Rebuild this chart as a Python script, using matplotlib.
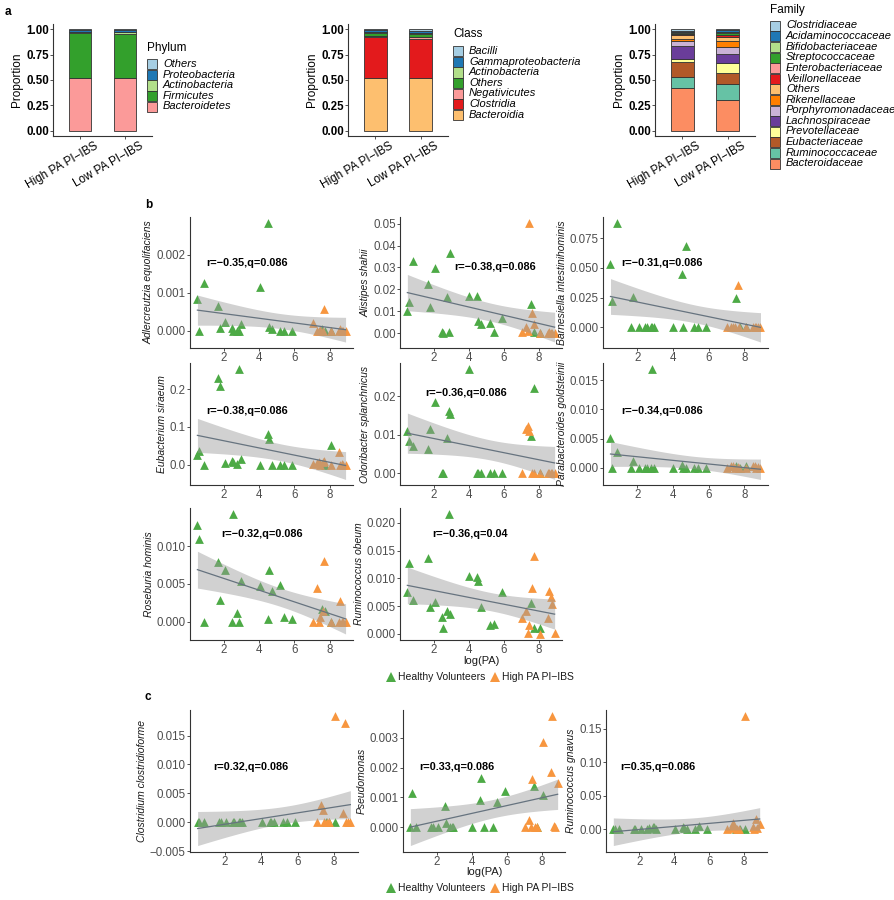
import numpy as np
import matplotlib.pyplot as plt
from matplotlib.patches import Rectangle
from matplotlib.lines import Line2D
import matplotlib.transforms as mtransforms

plt.rcParams['font.family'] = ['Liberation Sans', 'DejaVu Sans']

W, H = 895, 900

# ---------------- panel a: relative abundance ----------------
groups = ['High PA PI\u2212IBS', 'Low PA PI\u2212IBS']

phylum_names = ['Bacteroidetes', 'Firmicutes', 'Actinobacteria', 'Proteobacteria', 'Others']
phylum_high = [0.515, 0.442, 0.017, 0.019, 0.007]
phylum_low = [0.515, 0.433, 0.019, 0.023, 0.010]
phylum_colors = ['#FB9A99', '#33A02C', '#B2DF8A', '#1F78B4', '#A6CEE3']

class_names = ['Bacteroidia', 'Clostridia', 'Negativicutes', 'Others', 'Actinobacteria',
               'Gammaproteobacteria', 'Bacilli']
class_high = [0.515, 0.410, 0.010, 0.030, 0.010, 0.015, 0.010]
class_low = [0.515, 0.383, 0.027, 0.030, 0.010, 0.015, 0.020]
class_colors = ['#FDBF6F', '#E31A1C', '#FB9A99', '#33A02C', '#B2DF8A', '#1F78B4', '#A6CEE3']

family_names = ['Bacteroidaceae', 'Ruminococcaceae', 'Eubacteriaceae', 'Prevotellaceae',
                'Lachnospiraceae', 'Porphyromonadaceae', 'Rikenellaceae', 'Others',
                'Veillonellaceae', 'Enterobacteriaceae', 'Streptococcaceae',
                'Bifidobacteriaceae', 'Acidaminococcaceae', 'Clostridiaceae']
family_high = [0.426, 0.099, 0.147, 0.030, 0.134, 0.049, 0.013, 0.043, 0.009, 0.005, 0.005, 0.015, 0.010, 0.015]
family_low = [0.302, 0.157, 0.111, 0.099, 0.085, 0.066, 0.062, 0.036, 0.023, 0.005, 0.020, 0.005, 0.020, 0.009]
family_colors = ['#FC8D62', '#66C2A5', '#B15928', '#FFFF99', '#6A3D9A', '#CAB2D6', '#FF7F00',
                 '#FDBF6F', '#E31A1C', '#FB9A99', '#33A02C', '#B2DF8A', '#1F78B4', '#A6CEE3']

# ---------------- panels b, c: log(PA) vs abundance ----------------
X_HV = [0.50, 0.58, 0.85, 1.67, 1.77, 2.08, 2.45, 2.52, 2.75, 2.85, 2.95, 4.02, 4.50, 4.55,
        4.72, 5.20, 5.42, 5.87, 7.55, 7.75, 8.08]
X_PI = [7.04, 7.27, 7.38, 7.45, 7.62, 7.70, 8.07, 8.50, 8.60, 8.67, 8.75, 8.90]

adler_hv = [0.00084, 0.0, 0.00125, 0.00064, 0.00007, 0.00022, 0.00007, 0.0, 0.0, 0.0, 0.00017,
            0.00116, 0.00283, 0.00009, 0.00006, 0.0, 0.0, 0.0, 0.00005, 0.0, 0.0]
adler_pi = [0.0002, 0.0, 0.0, 0.00003, 0.0, 0.00057, 0.0, 0.0, 0.00004, 0.0, 0.0, 0.0]

alistipes_hv = [0.0102, 0.0142, 0.0329, 0.0223, 0.0120, 0.0298, 0.0006, 0.0, 0.0167, 0.0006, 0.0364,
                0.0170, 0.0170, 0.0056, 0.0044, 0.0048, 0.0006, 0.0071, 0.0135, 0.0003, 0.0]
alistipes_pi = [0.0003, 0.0030, 0.0010, 0.0503, 0.0091, 0.0040, 0.0, 0.0, 0.0005, 0.0, 0.0, 0.0]

barnes_hv = [0.0536, 0.0217, 0.0880, 0.0, 0.0256, 0.0, 0.0, 0.0, 0.0, 0.0, 0.0,
             0.0, 0.0450, 0.0, 0.0683, 0.0, 0.0, 0.0, 0.0244, 0.0, 0.0]
barnes_pi = [0.0, 0.0005, 0.0, 0.0, 0.0353, 0.0, 0.0, 0.0, 0.0005, 0.0, 0.0, 0.0]

eubac_hv = [0.026, 0.037, 0.0, 0.230, 0.209, 0.004, 0.010, 0.007, 0.002, 0.254, 0.014,
            0.0, 0.080, 0.068, 0.0, 0.0, 0.0, 0.0, 0.003, 0.0, 0.053]
eubac_pi = [0.002, 0.004, 0.006, 0.0, 0.008, 0.010, 0.0, 0.033, 0.0, 0.003, 0.0, 0.0]

odori_hv = [0.0109, 0.0083, 0.0071, 0.0062, 0.0115, 0.0186, 0.0, 0.0, 0.0090, 0.0161, 0.0153,
            0.0272, 0.0, 0.0, 0.0, 0.0, 0.0, 0.0, 0.0096, 0.0221, 0.0]
odori_pi = [0.0, 0.0115, 0.0122, 0.0109, 0.0, 0.0, 0.0, 0.0, 0.0, 0.0, 0.0, 0.0]

parab_hv = [0.0051, 0.0, 0.0027, 0.0, 0.0011, 0.0, 0.0, 0.0, 0.0, 0.0170, 0.0,
            0.0, 0.0004, 0.0, 0.0, 0.0, 0.0, 0.0, 0.0003, 0.0, 0.0002]
parab_pi = [0.0, 0.0002, 0.0003, 0.0, 0.0001, 0.0, 0.0, 0.0002, 0.0003, 0.0, 0.0001, 0.0]

roseb_hv = [0.0129, 0.0110, 0.0, 0.0079, 0.0029, 0.0068, 0.0, 0.0143, 0.0012, 0.0, 0.0054,
            0.0047, 0.0004, 0.0068, 0.0041, 0.0049, 0.0006, 0.0004, 0.0017, 0.0014, 0.0]
roseb_pi = [0.0, 0.0044, 0.0, 0.0006, 0.0014, 0.0080, 0.0, 0.0, 0.0028, 0.0, 0.0, 0.0]

obeum_hv = [0.0076, 0.0127, 0.0061, 0.0136, 0.0049, 0.0057, 0.0031, 0.0010, 0.0041, 0.0216, 0.0036,
            0.0105, 0.0102, 0.0096, 0.0048, 0.0016, 0.0018, 0.0076, 0.0056, 0.0010, 0.0010]
obeum_pi = [0.0028, 0.0041, 0.0001, 0.0016, 0.0082, 0.0141, 0.0, 0.0028, 0.0078, 0.0067, 0.0054, 0.0001]

clostr_hv = [0.0, 0.0, 0.0, 0.0, 0.0, 0.0, 0.0, 0.0, 0.0, 0.0, 0.0,
             0.0, 0.0, 0.0, 0.0, 0.0, 0.0, 0.0, 0.0, 0.0, 0.0]
clostr_pi = [0.0, 0.0029, 0.0021, 0.0, 0.0, 0.0, 0.0183, 0.0016, 0.0171, 0.0, 0.0, 0.0]

pseudo_hv = [0.0, 0.00114, 0.0, 0.0, 0.0, 0.0, 0.00071, 0.00015, 0.0, 0.0, 0.0,
             0.0, 0.00091, 0.00165, 0.0, 0.0, 0.00086, 0.00120, 0.00137, 0.0, 0.00107]
pseudo_pi = [0.0, 0.00023, 0.0, 0.00162, 0.0, 0.0, 0.00285, 0.00184, 0.00372, 0.00003, 0.0, 0.00150]

gnavus_hv = [0.0, 0.0, 0.0, 0.001, 0.0, 0.0, 0.001, 0.002, 0.004, 0.003, 0.001,
             0.0, 0.003, 0.002, 0.0, 0.001, 0.005, 0.0, 0.0, 0.0, 0.001]
gnavus_pi = [0.0, 0.002, 0.009, 0.003, 0.0, 0.001, 0.168, 0.003, 0.0, 0.016, 0.002, 0.0075]

taxa = ['Adlercreutzia equolifaciens', 'Alistipes shahii', 'Barnesiella intestinihominis',
        'Eubacterium siraeum', 'Odoribacter splanchnicus', 'Parabacteroides goldsteinii',
        'Roseburia hominis', 'Ruminococcus obeum',
        'Clostridium clostridioforme', 'Pseudomonas', 'Ruminococcus gnavus']
stats = ['r=\u22120.35,q=0.086', 'r=\u22120.38,q=0.086', 'r=\u22120.31,q=0.086',
         'r=\u22120.38,q=0.086', 'r=\u22120.36,q=0.086', 'r=\u22120.34,q=0.086',
         'r=\u22120.32,q=0.086', 'r=\u22120.36,q=0.04',
         'r=0.32,q=0.086', 'r=0.33,q=0.086', 'r=0.35,q=0.086']
yticks = [[0, 0.001, 0.002], [0, 0.01, 0.02, 0.03, 0.04, 0.05], [0, 0.025, 0.05, 0.075],
          [0, 0.1, 0.2], [0, 0.01, 0.02], [0, 0.005, 0.01, 0.015],
          [0, 0.005, 0.01], [0, 0.005, 0.01, 0.015, 0.02],
          [-0.005, 0, 0.005, 0.01, 0.015], [0, 0.001, 0.002, 0.003], [0, 0.05, 0.10, 0.15]]
ytick_labels = [['0.000', '0.001', '0.002'], ['0.00', '0.01', '0.02', '0.03', '0.04', '0.05'],
                ['0.000', '0.025', '0.050', '0.075'], ['0.0', '0.1', '0.2'],
                ['0.00', '0.01', '0.02'], ['0.000', '0.005', '0.010', '0.015'],
                ['0.000', '0.005', '0.010'], ['0.000', '0.005', '0.010', '0.015', '0.020'],
                ['\u22120.005', '0.000', '0.005', '0.010', '0.015'],
                ['0.000', '0.001', '0.002', '0.003'], ['0.00', '0.05', '0.10', '0.15']]
hv_values = [adler_hv, alistipes_hv, barnes_hv, eubac_hv, odori_hv, parab_hv, roseb_hv, obeum_hv,
             clostr_hv, pseudo_hv, gnavus_hv]
pi_values = [adler_pi, alistipes_pi, barnes_pi, eubac_pi, odori_pi, parab_pi, roseb_pi, obeum_pi,
             clostr_pi, pseudo_pi, gnavus_pi]

# layout (pixels): left, top, right, bottom of each scatter panel
boxes = [(190, 217, 353, 348), (400, 217, 562, 348), (603, 217, 768, 348),
         (190, 363, 353, 485), (400, 363, 562, 485), (603, 363, 768, 485),
         (190, 508, 353, 640), (400, 508, 562, 640),
         (190, 710, 358, 852), (403, 710, 565, 852), (606, 710, 767, 852)]
text_pos = [(0.35, 0.65), (0.59, 0.62), (0.36, 0.65),
            (0.35, 0.61), (0.41, 0.75), (0.36, 0.61),
            (0.44, 0.80), (0.43, 0.80),
            (0.36, 0.60), (0.33, 0.60), (0.32, 0.60)]

hv_color = '#4DAA46'
pi_color = '#F7963F'
axis_col = '#333333'

fig = plt.figure(figsize=(W / 100, H / 100), dpi=100)


def px_axes(l, t, r, b):
    return fig.add_axes([l / W, 1 - b / H, (r - l) / W, (b - t) / H])


def style_axes(ax):
    for s in ['top', 'right']:
        ax.spines[s].set_visible(False)
    for s in ['left', 'bottom']:
        ax.spines[s].set_color(axis_col)
        ax.spines[s].set_linewidth(0.8)
    ax.tick_params(length=2, width=0.6, color=axis_col, labelsize=8.3, labelcolor='#4D4D4D', pad=1)


# ---- panel a ----
def stacked(ax, high, low, colors):
    bottoms = np.zeros(2)
    for hv, lv, c in zip(high, low, colors):
        vals = np.array([hv, lv])
        ax.bar([1, 2], vals, width=0.5, bottom=bottoms, color=c, edgecolor='#333333', linewidth=0.6)
        bottoms += vals
    ax.set_xlim(0.4, 2.6)
    ax.set_ylim(-0.05, 1.05)
    style_axes(ax)
    ax.tick_params(labelcolor='black')
    ax.set_yticks([0, 0.25, 0.5, 0.75, 1.0], ['0.00', '0.25', '0.50', '0.75', '1.00'], fontweight='bold')
    ax.set_xticks([1, 2], groups, rotation=30, ha='right', rotation_mode='anchor', fontsize=8.4)
    offset = mtransforms.ScaledTranslation(14 / 100, 0, fig.dpi_scale_trans)
    for lab in ax.get_xticklabels():
        lab.set_transform(lab.get_transform() + offset)
    ax.set_ylabel('Proportion', fontsize=8.5, labelpad=2)


def box_legend(title, names, colors, x, y_title, y0, dy=10.6):
    fig.text(x / W, 1 - y_title / H, title, fontsize=8.5, va='center', ha='left')
    for i, (n, c) in enumerate(zip(names[::-1], colors[::-1])):
        yc = y0 + i * dy
        fig.add_artist(Rectangle((x / W, 1 - (yc + dy / 2) / H), 10 / W, (dy - 0.5) / H,
                                 facecolor=c, edgecolor='#333333', lw=0.6, transform=fig.transFigure))
        fig.text((x + 16) / W, 1 - yc / H, n, fontsize=8, style='italic', va='center', ha='left')


ax = px_axes(53, 24, 152, 136)
stacked(ax, phylum_high, phylum_low, phylum_colors)
box_legend('Phylum', phylum_names, phylum_colors, 147, 48, 64)

ax = px_axes(348, 24, 448, 136)
stacked(ax, class_high, class_low, class_colors)
box_legend('Class', class_names, class_colors, 453, 34, 51)

ax = px_axes(655, 24, 755, 136)
stacked(ax, family_high, family_low, family_colors)
box_legend('Family', family_names, family_colors, 770, 10, 25.5)


# ---- panels b and c ----
def lm_band(x, y):
    xx = np.linspace(x.min(), x.max(), 80)
    b1, b0 = np.polyfit(x, y, 1)
    fit = b0 + b1 * xx
    resid = y - (b0 + b1 * x)
    n = len(x)
    s = np.sqrt(np.sum(resid ** 2) / (n - 2))
    sxx = np.sum((x - x.mean()) ** 2)
    se = s * np.sqrt(1 / n + (xx - x.mean()) ** 2 / sxx)
    t = 2.04  # t quantile 0.975, df = 31
    return xx, fit, fit - t * se, fit + t * se


x_all = np.array(X_HV + X_PI)
for i, name in enumerate(taxa):
    ax = px_axes(*boxes[i])
    y_all = np.array(hv_values[i] + pi_values[i])
    ax.scatter(X_HV, hv_values[i], marker='^', s=40, color=hv_color, linewidths=0, zorder=2)
    ax.scatter(X_PI, pi_values[i], marker='^', s=40, color=pi_color, linewidths=0, zorder=2)
    xx, fit, lo, hi = lm_band(x_all, y_all)
    ax.fill_between(xx, lo, hi, color='#999999', alpha=0.45, linewidth=0, zorder=3)
    ax.plot(xx, fit, color='#66737F', lw=0.9, zorder=4)
    ax.margins(x=0.05, y=0.05)
    style_axes(ax)
    ax.set_xticks([2, 4, 6, 8])
    ax.set_yticks(yticks[i], ytick_labels[i])
    ax.set_ylabel(name, fontsize=7.5, style='italic', color='#1A1A1A', labelpad=2)
    ax.text(text_pos[i][0], text_pos[i][1], stats[i], transform=ax.transAxes, fontsize=7.8,
            fontweight='bold', ha='center', va='center', zorder=5)


def group_legend(y):
    fig.add_artist(Line2D([391 / W], [1 - y / H], marker='^', ls='none', ms=6.5, color=hv_color,
                          markeredgewidth=0, transform=fig.transFigure))
    fig.text(398 / W, 1 - y / H, 'Healthy Volunteers', fontsize=7.5, color='#1A1A1A', va='center')
    fig.add_artist(Line2D([495 / W], [1 - y / H], marker='^', ls='none', ms=6.5, color=pi_color,
                          markeredgewidth=0, transform=fig.transFigure))
    fig.text(502 / W, 1 - y / H, 'High PA PI\u2212IBS', fontsize=7.5, color='#1A1A1A', va='center')


fig.text(481 / W, 1 - 661 / H, 'log(PA)', fontsize=8, color='#1A1A1A', ha='center', va='center')
group_legend(677)
fig.text(484 / W, 1 - 872 / H, 'log(PA)', fontsize=8, color='#1A1A1A', ha='center', va='center')
group_legend(888)

fig.text(5 / W, 1 - 12 / H, 'a', fontsize=8.5, fontweight='bold', va='center')
fig.text(145 / W, 1 - 205 / H, 'b', fontsize=8.5, fontweight='bold', va='center')
fig.text(145 / W, 1 - 697 / H, 'c', fontsize=8.5, fontweight='bold', va='center')

fig.savefig('out.png', dpi=100)
